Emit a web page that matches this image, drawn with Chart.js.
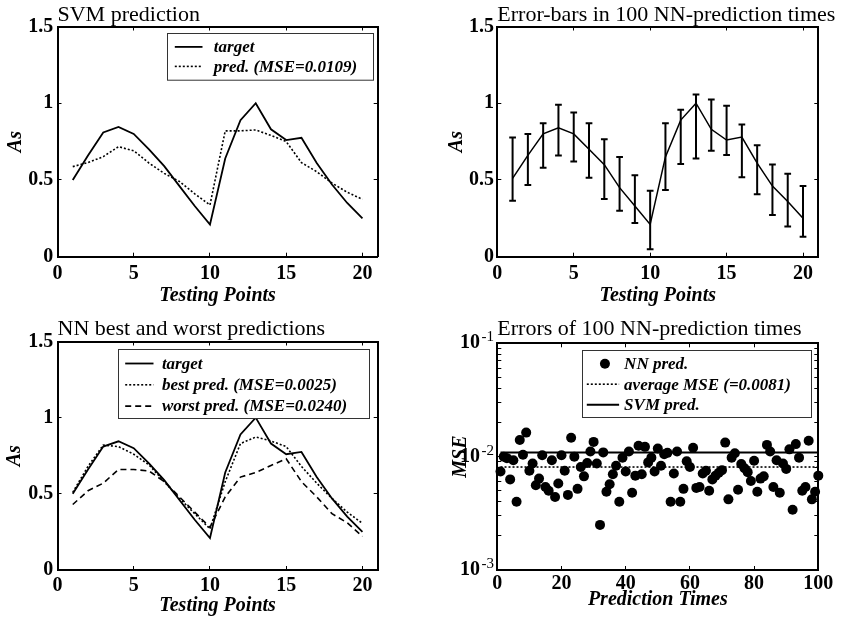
<!DOCTYPE html>
<html>
<head>
<meta charset="utf-8">
<script src="https://cdn.jsdelivr.net/npm/chart.js@4/dist/chart.umd.min.js"></script>
<style>
html, body { margin: 0; padding: 0; background: #fff; }
#wrap { position: relative; width: 847px; height: 622px; background: #fff; }
#wrap canvas { position: absolute; }
</style>
</head>
<body>
<div id="wrap">
  <canvas id="cTL" width="420" height="310" style="left:0px;top:0px;"></canvas>
  <canvas id="cTR" width="427" height="310" style="left:420px;top:0px;"></canvas>
  <canvas id="cBL" width="420" height="312" style="left:0px;top:310px;"></canvas>
  <canvas id="cBR" width="427" height="312" style="left:420px;top:310px;"></canvas>
</div>
<script>
// ------------------------- DATA -------------------------
const testingPoints = [1, 2, 3, 4, 5, 6, 7, 8, 9, 10, 11, 12, 13, 14, 15, 16, 17, 18, 19, 20];
const target    = [0.50, 0.66, 0.81, 0.845, 0.80, 0.70, 0.59, 0.46, 0.33, 0.21, 0.64, 0.89, 1.00, 0.83, 0.76, 0.775, 0.61, 0.47, 0.35, 0.25];
const svmPred   = [0.587, 0.613, 0.652, 0.717, 0.69, 0.61, 0.543, 0.49, 0.41, 0.337, 0.82, 0.82, 0.826, 0.79, 0.75, 0.613, 0.554, 0.48, 0.42, 0.374];
const nnMean    = [0.51, 0.66, 0.80, 0.84, 0.80, 0.70, 0.60, 0.45, 0.33, 0.21, 0.65, 0.89, 1.00, 0.83, 0.76, 0.78, 0.61, 0.46, 0.36, 0.25];
const nnUpper   = [0.776, 0.80, 0.87, 0.99, 0.94, 0.87, 0.765, 0.65, 0.53, 0.43, 0.87, 0.957, 1.057, 1.024, 0.983, 0.861, 0.726, 0.60, 0.54, 0.46];
const nnLower   = [0.365, 0.467, 0.58, 0.66, 0.62, 0.515, 0.376, 0.30, 0.22, 0.048, 0.435, 0.604, 0.64, 0.69, 0.663, 0.517, 0.407, 0.272, 0.196, 0.13];
const bestPred  = [0.51, 0.68, 0.82, 0.81, 0.76, 0.69, 0.58, 0.47, 0.37, 0.27, 0.58, 0.83, 0.873, 0.847, 0.81, 0.68, 0.57, 0.47, 0.38, 0.306];
const worstPred = [0.43, 0.52, 0.57, 0.66, 0.66, 0.65, 0.58, 0.48, 0.38, 0.28, 0.48, 0.61, 0.64, 0.686, 0.73, 0.58, 0.48, 0.37, 0.31, 0.22];

const predictionTimes = [1, 2, 3, 4, 5, 6, 7, 8, 9, 10, 11, 12, 13, 14, 15, 16, 17, 18, 19, 20,
  21, 22, 23, 24, 25, 26, 27, 28, 29, 30, 31, 32, 33, 34, 35, 36, 37, 38, 39, 40,
  41, 42, 43, 44, 45, 46, 47, 48, 49, 50, 51, 52, 53, 54, 55, 56, 57, 58, 59, 60,
  61, 62, 63, 64, 65, 66, 67, 68, 69, 70, 71, 72, 73, 74, 75, 76, 77, 78, 79, 80,
  81, 82, 83, 84, 85, 86, 87, 88, 89, 90, 91, 92, 93, 94, 95, 96, 97, 98, 99, 100];
const nnMSE = [
  0.0074, 0.0100, 0.0097, 0.0063, 0.0093, 0.0040, 0.0140, 0.0104, 0.0163, 0.0075,
  0.0087, 0.0056, 0.0064, 0.0103, 0.0054, 0.0050, 0.0093, 0.0044, 0.0058, 0.0103,
  0.0075, 0.0046, 0.0147, 0.0100, 0.0052, 0.0081, 0.0067, 0.0088, 0.0111, 0.0135,
  0.0087, 0.0025, 0.0109, 0.0049, 0.0057, 0.0070, 0.0083, 0.0040, 0.0098, 0.0074,
  0.0111, 0.0048, 0.0068, 0.0125, 0.0070, 0.0122, 0.0089, 0.0098, 0.0074, 0.0118,
  0.0083, 0.0105, 0.0108, 0.0040, 0.0071, 0.0111, 0.0040, 0.0052, 0.0091, 0.0081,
  0.0120, 0.0053, 0.0054, 0.0071, 0.0075, 0.0050, 0.0063, 0.0068, 0.0072, 0.0076,
  0.0133, 0.0042, 0.0098, 0.0107, 0.0051, 0.0086, 0.0079, 0.0073, 0.0061, 0.0092,
  0.0049, 0.0064, 0.0067, 0.0127, 0.0111, 0.0054, 0.0093, 0.0048, 0.0087, 0.0078,
  0.0116, 0.0034, 0.0129, 0.0098, 0.0050, 0.0054, 0.0138, 0.0042, 0.0049, 0.0068];
const avgMSE = 0.0081;
const svmMSE = 0.0109;

const asTicks = [0, 0.5, 1, 1.5];
const asTickLabels = ['0', '0.5', '1', '1.5'];
const testingTicks = [0, 5, 10, 15, 20];
const testingTickLabels = ['0', '5', '10', '15', '20'];
const timesTicks = [0, 20, 40, 60, 80, 100];
const timesTickLabels = ['0', '20', '40', '60', '80', '100'];
const mseDecades = [0.001, 0.01, 0.1];
const mseDecadeBase = '10';
const mseDecadeExponents = ['-3', '-2', '-1'];

const panelTitles = ['SVM prediction', 'Error-bars in 100 NN-prediction times',
                     'NN best and worst predictions', 'Errors of 100 NN-prediction times'];

// ------------------------- STYLE HELPERS -------------------------
const FONT = '"Liberation Serif", "Times New Roman", Times, serif';
const tickFont = { family: FONT, size: 20, weight: 'bold' };
const axisTitleFont = { family: FONT, size: 20, weight: 'bold', style: 'italic' };
const gridInward = { display: true, drawOnChartArea: false, drawTicks: true, tickLength: -4, color: '#000', lineWidth: 1 };
const axisBorder = { display: true, color: '#000', width: 2 };

function xy(xs, ys) { return xs.map((x, i) => ({ x: x, y: ys[i] })); }

function errorBarPoints(xs, lo, hi, cap) {
  const pts = [];
  xs.forEach((x, i) => {
    pts.push({ x: x, y: lo[i] }, { x: x, y: hi[i] }, { x: x, y: null });
    pts.push({ x: x - cap, y: hi[i] }, { x: x + cap, y: hi[i] }, { x: x, y: null });
    pts.push({ x: x - cap, y: lo[i] }, { x: x + cap, y: lo[i] }, { x: x, y: null });
  });
  return pts;
}

function logMinorTicks(decades) {
  const out = [];
  for (let d = 0; d < decades.length - 1; d++) {
    for (let k = 1; k <= 9; k++) out.push(k * decades[d]);
  }
  out.push(decades[decades.length - 1]);
  return out;
}

const fixTicks = (values) => (scale) => { scale.ticks = values.map(v => ({ value: v })); };
const fixWidth = (w) => (scale) => { scale.width = w; };
const fixHeight = (h) => (scale) => { scale.height = h; };

function buildScales(p) {
  const xCommon = { type: 'linear', axis: 'x', min: p.xMin, max: p.xMax, afterBuildTicks: fixTicks(p.xTicks) };
  const yCommon = { type: p.yType, axis: 'y', min: p.yMin, max: p.yMax, afterBuildTicks: fixTicks(p.yTicks) };
  return {
    x: Object.assign({}, xCommon, {
      position: 'bottom', grid: gridInward, border: axisBorder,
      ticks: { autoSkip: false, maxRotation: 0, padding: p.xTickPad, font: tickFont, color: '#000', callback: p.xLabel },
      title: { display: true, text: p.xTitle, font: axisTitleFont, color: '#000', padding: { top: 0, bottom: p.xTitlePad } },
      afterFit: fixHeight(p.xHeight)
    }),
    x2: Object.assign({}, xCommon, {
      position: 'top', grid: gridInward, border: axisBorder, ticks: { display: false, autoSkip: false }, afterFit: fixHeight(0)
    }),
    y: Object.assign({}, yCommon, {
      position: 'left', grid: gridInward, border: axisBorder,
      ticks: { autoSkip: false, padding: p.yTickPad, font: tickFont, color: '#000', callback: p.yLabel },
      title: { display: true, text: p.yTitle, font: axisTitleFont, color: '#000', padding: { top: p.yTitlePad, bottom: 0 } },
      afterFit: fixWidth(p.yWidth)
    }),
    y2: Object.assign({}, yCommon, {
      position: 'right', grid: gridInward, border: axisBorder, ticks: { display: false, autoSkip: false }, afterFit: fixWidth(0)
    })
  };
}

// ------------------------- PLUGINS -------------------------
const panelTitle = {
  id: 'panelTitle',
  afterDraw(chart, args, opts) {
    const { ctx, chartArea } = chart;
    ctx.save();
    ctx.font = 'normal 22px ' + FONT;
    ctx.fillStyle = '#000';
    ctx.textAlign = 'left';
    ctx.textBaseline = 'alphabetic';
    ctx.fillText(opts.text, chartArea.left, opts.baseline);
    ctx.restore();
  }
};

// draws the exponents of the "10" decade tick labels of a log axis
const decadeExponents = {
  id: 'decadeExponents',
  afterDraw(chart, args, opts) {
    if (!opts || !opts.show) return;
    const scale = chart.scales.y;
    const { ctx } = chart;
    const labelRight = scale.right + 4 - scale.options.ticks.padding;
    ctx.save();
    ctx.font = 'normal 15px ' + FONT;
    ctx.fillStyle = '#000';
    ctx.textAlign = 'left';
    ctx.textBaseline = 'alphabetic';
    opts.values.forEach((v, i) => {
      const y = scale.getPixelForValue(v);
      ctx.fillText(opts.exponents[i], labelRight + 1.5, y - 2);
    });
    ctx.restore();
  }
};

const boxLegend = {
  id: 'boxLegend',
  afterDatasetsDraw(chart, args, opts) {
    if (!opts || !opts.show) return;
    const { ctx, chartArea } = chart;
    const x0 = Math.round(chartArea.left + opts.dx) + 0.5;
    const y0 = Math.round(chartArea.top + opts.dy) + 0.5;
    ctx.save();
    ctx.fillStyle = '#fff';
    ctx.fillRect(x0, y0, opts.w, opts.h);
    ctx.strokeStyle = '#333';
    ctx.lineWidth = 1;
    ctx.setLineDash([]);
    ctx.strokeRect(x0, y0, opts.w, opts.h);
    ctx.font = 'italic bold 17px ' + FONT;
    ctx.textBaseline = 'middle';
    ctx.textAlign = 'left';
    let row = 0;
    chart.data.datasets.forEach(ds => {
      if (!ds.label) return;
      const y = y0 + opts.row0 + row * opts.rowGap;
      ctx.strokeStyle = '#000';
      ctx.fillStyle = '#000';
      if (ds.showLine === false) {
        ctx.beginPath();
        ctx.arc(x0 + (opts.s0 + opts.s1) / 2 + 2, y, ds.pointRadius, 0, Math.PI * 2);
        ctx.fill();
      } else {
        ctx.lineWidth = ds.borderWidth;
        ctx.setLineDash(ds.borderDash || []);
        ctx.beginPath();
        ctx.moveTo(x0 + opts.s0, y);
        ctx.lineTo(x0 + opts.s1, y);
        ctx.stroke();
        ctx.setLineDash([]);
      }
      ctx.fillText(ds.label, x0 + opts.tx, y + 1);
      row++;
    });
    ctx.restore();
  }
};

function lineDs(label, data, dash, width) {
  return {
    label: label, data: data, borderColor: '#000', backgroundColor: '#000',
    borderWidth: width, borderDash: dash, pointRadius: 0, pointHoverRadius: 0,
    fill: false, tension: 0, xAxisID: 'x', yAxisID: 'y'
  };
}

function makeChart(id, geo, scalesP, datasets, titleText, titleBaseline, legendOpts, expOpts) {
  const canvas = document.getElementById(id);
  const W = canvas.width, H = canvas.height;
  scalesP.yWidth = geo.left;
  scalesP.xHeight = H - geo.bottom;
  return new Chart(canvas, {
    type: 'line',
    data: { datasets: datasets },
    options: {
      responsive: false,
      animation: false,
      devicePixelRatio: 1,
      events: [],
      layout: { padding: { left: 0, top: geo.top, right: W - geo.right, bottom: 0 } },
      scales: buildScales(scalesP),
      plugins: {
        legend: { display: false },
        tooltip: { enabled: false },
        title: { display: false },
        panelTitle: { text: titleText, baseline: titleBaseline },
        boxLegend: legendOpts || { show: false },
        decadeExponents: expOpts || { show: false }
      }
    },
    plugins: [panelTitle, boxLegend, decadeExponents]
  });
}

const linAsLabel = (v, i) => asTickLabels[i];
const testingLabel = (v, i) => testingTickLabels[i];
const timesLabel = (v, i) => timesTickLabels[i];
const mseLabel = (v) => {
  const k = mseDecades.findIndex(d => Math.abs(v / d - 1) < 1e-6);
  return k >= 0 ? mseDecadeBase : '';
};

// ------------------------- PANEL 1: SVM prediction -------------------------
makeChart('cTL', { left: 57.5, top: 26.5, right: 377.7, bottom: 256.7 },
  { xMin: 0, xMax: 21, xTicks: testingTicks, xLabel: testingLabel, xTitle: 'Testing Points', xTitlePad: 2.4, xTickPad: 9.5,
    yType: 'linear', yMin: 0, yMax: 1.5, yTicks: asTicks, yLabel: linAsLabel, yTitle: 'As', yTitlePad: 3.5, yTickPad: 8.2 },
  [
    lineDs('target', xy(testingPoints, target), [], 1.8),
    lineDs('pred. (MSE=0.0109)', xy(testingPoints, svmPred), [2, 2], 1.6)
  ],
  panelTitles[0], 20.7,
  { show: true, dx: 109.2, dy: 6.8, w: 206, h: 46.7, row0: 13.4, rowGap: 19.5, s0: 7.3, s1: 35, tx: 46.3 }
);

// ------------------------- PANEL 2: Error bars -------------------------
makeChart('cTR', { left: 77.3, top: 26.5, right: 398.3, bottom: 256.7 },
  { xMin: 0, xMax: 21, xTicks: testingTicks, xLabel: testingLabel, xTitle: 'Testing Points', xTitlePad: 2.4, xTickPad: 9.5,
    yType: 'linear', yMin: 0, yMax: 1.5, yTicks: asTicks, yLabel: linAsLabel, yTitle: 'As', yTitlePad: 25.2, yTickPad: 7.3 },
  [
    Object.assign(lineDs('', errorBarPoints(testingPoints, nnLower, nnUpper, 0.22), [], 2), { spanGaps: false }),
    lineDs('', xy(testingPoints, nnMean), [], 1.5)
  ],
  panelTitles[1], 20.7, null
);

// ------------------------- PANEL 3: NN best & worst -------------------------
makeChart('cBL', { left: 57.5, top: 31.5, right: 377.7, bottom: 260 },
  { xMin: 0, xMax: 21, xTicks: testingTicks, xLabel: testingLabel, xTitle: 'Testing Points', xTitlePad: 4.4, xTickPad: 8,
    yType: 'linear', yMin: 0, yMax: 1.5, yTicks: asTicks, yLabel: linAsLabel, yTitle: 'As', yTitlePad: 3, yTickPad: 8.2 },
  [
    lineDs('target', xy(testingPoints, target), [], 1.8),
    lineDs('best pred. (MSE=0.0025)', xy(testingPoints, bestPred), [2, 2], 1.6),
    lineDs('worst pred. (MSE=0.0240)', xy(testingPoints, worstPred), [6, 4], 1.6)
  ],
  panelTitles[2], 25,
  { show: true, dx: 60.8, dy: 7.8, w: 251, h: 69, row0: 14, rowGap: 21.3, s0: 6.7, s1: 35, tx: 43.4 }
);

// ------------------------- PANEL 4: Errors of 100 NN predictions -------------------------
const firstTime = predictionTimes[0];
const lastTime = predictionTimes[predictionTimes.length - 1];
makeChart('cBR', { left: 77.3, top: 31.5, right: 398.3, bottom: 260 },
  { xMin: 0, xMax: 100, xTicks: timesTicks, xLabel: timesLabel, xTitle: 'Prediction Times', xTitlePad: 10, xTickPad: 6,
    yType: 'logarithmic', yMin: mseDecades[0], yMax: mseDecades[mseDecades.length - 1], yTicks: logMinorTicks(mseDecades),
    yLabel: mseLabel, yTitle: 'MSE', yTitlePad: 28.8, yTickPad: 21.3 },
  [
    { label: 'NN pred.', data: xy(predictionTimes, nnMSE), showLine: false, pointRadius: 5, pointStyle: 'circle',
      pointBackgroundColor: '#000', pointBorderColor: '#000', pointBorderWidth: 0, pointHoverRadius: 5,
      borderColor: '#000', backgroundColor: '#000', clip: false, xAxisID: 'x', yAxisID: 'y' },
    lineDs('average MSE (=0.0081)', [{ x: firstTime, y: avgMSE }, { x: lastTime, y: avgMSE }], [2, 2], 1.6),
    lineDs('SVM pred.', [{ x: firstTime, y: svmMSE }, { x: lastTime, y: svmMSE }], [], 2)
  ],
  panelTitles[3], 25,
  { show: true, dx: 84.4, dy: 6.3, w: 229, h: 67, row0: 13.2, rowGap: 20.5, s0: 4.3, s1: 36.6, tx: 41.6 },
  { show: true, values: mseDecades, exponents: mseDecadeExponents }
);
</script>
</body>
</html>
